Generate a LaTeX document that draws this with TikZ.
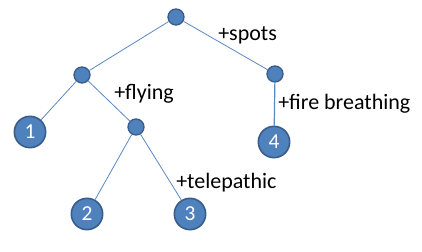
\documentclass[tikz,border=0pt]{standalone}
\usepackage{fontspec}
\setmainfont{Carlito}
\usepackage{xcolor}
\usepackage{tikz}
\usetikzlibrary{positioning}
\definecolor{nodeblue}{RGB}{79,129,189}
\definecolor{nodeedge}{RGB}{56,93,138}
\definecolor{linkblue}{RGB}{91,135,195}

\begin{document}
\begin{tikzpicture}[
      x=0.75pt, y=-0.75pt,
      every node/.style={font=\fontsize{16.5}{19}\selectfont},
      intnode/.style={circle, draw=nodeedge, fill=nodeblue, line width=1pt, minimum size=12pt, inner sep=0pt},
      leafnode/.style={circle, draw=nodeedge, fill=nodeblue, line width=1.2pt, minimum size=23.5pt, inner sep=0pt, text=white, font=\fontsize{16}{18}\selectfont},
      feat/.style={anchor=west, inner sep=0pt},
      link/.style={draw=linkblue, line width=0.6pt}
    ]
      \useasboundingbox (0,0) rectangle (422,252);

      % inner nodes
      \node[intnode] (root) at (176,17) {};
      \node[intnode] (left) at (82,75) {};
      \node[intnode] (right) at (275,74) {};
      \node[intnode] (mid) at (136,127) {};

      % leaves
      \node[leafnode] (l1) at (30,132) {1};
      \node[leafnode] (l2) at (87,214) {2};
      \node[leafnode] (l3) at (190,214) {3};
      \node[leafnode] (l4) at (274,142) {4};

      % edges
      \draw[link] (root) -- (left);
      \draw[link] (root) -- (right);
      \draw[link] (left) -- (l1);
      \draw[link] (left) -- (mid);
      \draw[link] (mid) -- (l2);
      \draw[link] (mid) -- (l3);
      \draw[link, line width=0.9pt] (right) -- (l4);

      % feature labels
      \node[feat] (fspots) at (218,35) {+spots};
      \node[feat] (ffly) at (114,94) {+flying};
      \node[feat] (ffire) at (278,104) {+fire breathing};
      \node[feat] (ftele) at (176,183) {+telepathic};
    \end{tikzpicture}
\end{document}
